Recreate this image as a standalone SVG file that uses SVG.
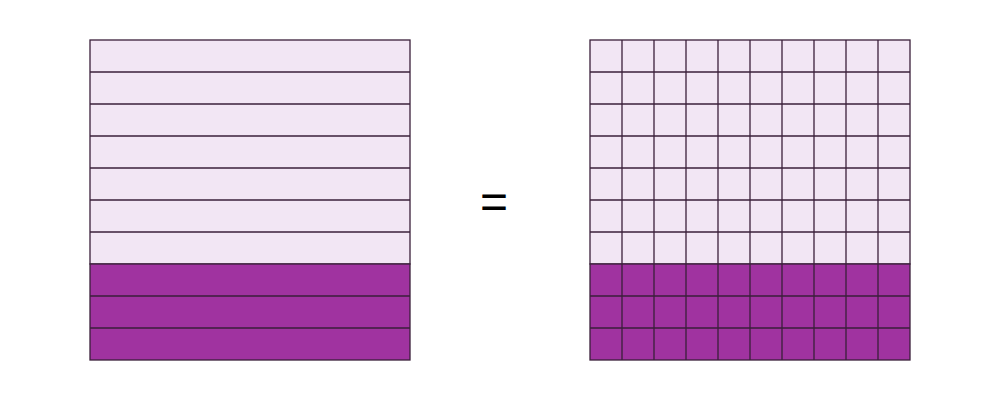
<svg xmlns="http://www.w3.org/2000/svg" width="1000" height="400" viewBox="0 0 1000 400">
<defs>
<style>
.l{fill:#f2e6f4;stroke:#3a1f3a;stroke-width:1.3}
.d{fill:#a033a0;stroke:#3a1f3a;stroke-width:1.3}
.g{stroke:#3a1f3a;stroke-width:1.3}
</style>
</defs>
<rect width="1000" height="400" fill="#fff"/>
<g id="left">
<rect class="l" x="90" y="40" width="320" height="224"/>
<rect class="d" x="90" y="264" width="320" height="96"/>
<g class="g">
<line x1="90" y1="72" x2="410" y2="72"/><line x1="90" y1="104" x2="410" y2="104"/><line x1="90" y1="136" x2="410" y2="136"/><line x1="90" y1="168" x2="410" y2="168"/><line x1="90" y1="200" x2="410" y2="200"/><line x1="90" y1="232" x2="410" y2="232"/><line x1="90" y1="296" x2="410" y2="296"/><line x1="90" y1="328" x2="410" y2="328"/>
</g>
</g>
<g id="right">
<rect class="l" x="590" y="40" width="320" height="224"/>
<rect class="d" x="590" y="264" width="320" height="96"/>
<g class="g">
<line x1="590" y1="72" x2="910" y2="72"/><line x1="590" y1="104" x2="910" y2="104"/><line x1="590" y1="136" x2="910" y2="136"/><line x1="590" y1="168" x2="910" y2="168"/><line x1="590" y1="200" x2="910" y2="200"/><line x1="590" y1="232" x2="910" y2="232"/><line x1="590" y1="296" x2="910" y2="296"/><line x1="590" y1="328" x2="910" y2="328"/>
<line x1="622" y1="40" x2="622" y2="360"/><line x1="654" y1="40" x2="654" y2="360"/><line x1="686" y1="40" x2="686" y2="360"/><line x1="718" y1="40" x2="718" y2="360"/><line x1="750" y1="40" x2="750" y2="360"/><line x1="782" y1="40" x2="782" y2="360"/><line x1="814" y1="40" x2="814" y2="360"/><line x1="846" y1="40" x2="846" y2="360"/><line x1="878" y1="40" x2="878" y2="360"/>
</g>
</g>
<g id="eq">
<text x="494" y="218" font-family="Liberation Sans, sans-serif" font-size="48" text-anchor="middle" fill="#000">=</text>
</g>
</svg>
